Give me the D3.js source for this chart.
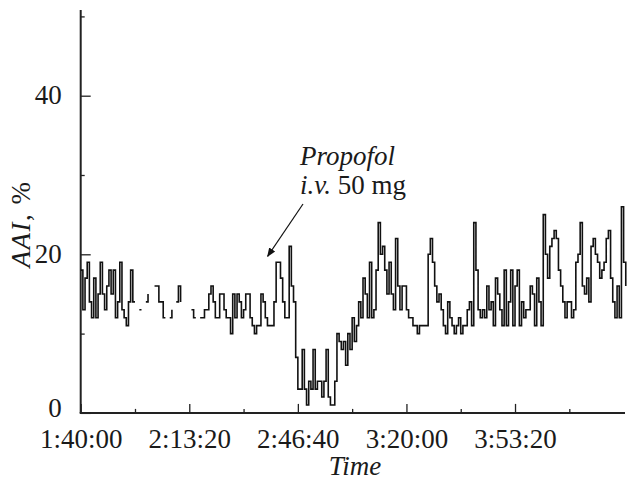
<!DOCTYPE html>
<html>
<head>
<meta charset="utf-8">
<script src="https://cdn.jsdelivr.net/npm/d3@7"></script>
<style>
  html, body { margin: 0; padding: 0; background: #fff; }
  svg { display: block; }
  text { font-family: "Liberation Serif", "DejaVu Serif", serif; fill: #1a1a1a; }
</style>
</head>
<body>
<svg id="chart" width="629" height="481"></svg>
<script>
// ---- data ----
const startSeconds = 6000;      // 1:40:00
const sampleSeconds = 40;       // sampling interval of the AAI trace
const aai = [
  18,13,17,19,14,12,17,12,15,19,
  15,13,16,18,15,18,12,14,19,13,
  12,11,14,18,14,14,null,13,13,null,
  14,15,null,null,16,16,14,14,12,12,
  null,12,13,null,14,16,14,null,null,null,
  null,13,12,12,null,12,12,13,13,15,
  16,14,12,12,15,15,13,12,12,10,
  15,12,15,14,12,13,15,15,12,11,
  10,11,11,15,14,12,11,11,11,14,
  19,19,17,14,12,12,21,16,14,7,
  3,3,8,3,1,4,3,8,3,4,
  4,2,4,8,2,1,1,4,10,9,
  8,9,6,10,8,12,9,11,14,12,
  17,15,12,19,12,13,18,24,20,21,
  18,15,19,15,13,22,16,13,16,16,
  13,12,12,11,11,10,11,11,11,11,
  20,22,19,16,14,15,13,11,10,14,
  12,11,10,11,12,10,11,11,13,14,
  11,24,18,13,12,13,12,16,13,14,
  11,17,15,13,11,18,11,14,18,11,
  16,18,11,14,12,13,13,16,15,11,
  17,14,11,25,20,17,21,22,23,22,
  18,16,14,12,14,14,12,13,19,20,
  24,16,15,17,14,21,22,20,19,17,
  18,19,22,23,17,14,12,16,12,26,
  19,16
];
const xMajorTicks = [6000, 8000, 10000, 12000, 14000];
const xTickLabels = ["1:40:00", "2:13:20", "2:46:40", "3:20:00", "3:53:20"];
const xMinorTicks = [7000, 9000, 11000, 13000, 15000];
const yMajorTicks = [0, 20, 40];
const yTickLabels = ["0", "20", "40"];
const yMinorTicks = [10, 30, 50];
const annotationLines = ["Propofol", "i.v.", " 50 mg"];
const annotationPoint = { t: 9480, v: 20 };

// ---- build ----
const FS = 27;
const svg = d3.select("#chart");
const x = d3.scaleLinear().domain([6000, 16000]).range([80.7, 623.6]);
const y = d3.scaleLinear().domain([0, 50]).range([412.9, 16.4]);

const series = aai.map((v, i) => ({ t: startSeconds + i * sampleSeconds, v }));

const axisColor = "#222";

// axis lines
svg.append("line")
  .attr("x1", x(6000)).attr("x2", x(6000))
  .attr("y1", y(0)).attr("y2", 10)
  .attr("stroke", axisColor).attr("stroke-width", 2);
svg.append("line")
  .attr("x1", x(6000) - 1).attr("x2", 625)
  .attr("y1", y(0)).attr("y2", y(0))
  .attr("stroke", axisColor).attr("stroke-width", 2);

// x axis (ticks pointing inward/up)
const xAxis = d3.axisBottom(x)
  .tickValues(xMajorTicks)
  .tickFormat((d, i) => xTickLabels[i])
  .tickSizeInner(-9).tickSizeOuter(0).tickPadding(16);
const gx = svg.append("g").attr("transform", `translate(0,${y(0)})`).call(xAxis);
gx.select(".domain").remove();
gx.selectAll(".tick line").attr("stroke", axisColor).attr("stroke-width", 1.3);
gx.selectAll(".tick text").attr("font-size", FS).attr("font-family", "Liberation Serif").attr("fill", "#1a1a1a");

const xMinor = d3.axisBottom(x).tickValues(xMinorTicks).tickFormat("").tickSizeInner(-4).tickSizeOuter(0);
const gxm = svg.append("g").attr("transform", `translate(0,${y(0)})`).call(xMinor);
gxm.select(".domain").remove();
gxm.selectAll(".tick line").attr("stroke", axisColor).attr("stroke-width", 1.3);

// y axis (ticks pointing inward/right)
const yAxis = d3.axisLeft(y)
  .tickValues(yMajorTicks)
  .tickFormat((d, i) => yTickLabels[i])
  .tickSizeInner(-10).tickSizeOuter(0).tickPadding(19);
const gy = svg.append("g").attr("transform", `translate(${x(6000)},0)`).call(yAxis);
gy.select(".domain").remove();
gy.selectAll(".tick line").attr("stroke", axisColor).attr("stroke-width", 1.3);
gy.selectAll(".tick text").attr("font-size", FS).attr("font-family", "Liberation Serif").attr("fill", "#1a1a1a")
  .attr("dy", (d) => d === 0 ? "0.15em" : "0.3em");

const yMinor = d3.axisLeft(y).tickValues(yMinorTicks).tickFormat("").tickSizeInner(-4).tickSizeOuter(0);
const gym = svg.append("g").attr("transform", `translate(${x(6000)},0)`).call(yMinor);
gym.select(".domain").remove();
gym.selectAll(".tick line").attr("stroke", axisColor).attr("stroke-width", 1.3);

// trace
const line = d3.line()
  .defined(d => d.v !== null)
  .x(d => x(d.t))
  .y(d => y(d.v))
  .curve(d3.curveStepAfter);
svg.append("path")
  .datum(series)
  .attr("d", line)
  .attr("fill", "none")
  .attr("stroke", "#111")
  .attr("stroke-width", 1.6)
  .attr("stroke-linejoin", "miter");

// axis titles
svg.append("text")
  .attr("x", 355)
  .attr("y", 475)
  .attr("text-anchor", "middle")
  .attr("font-size", FS)
  .attr("font-style", "italic")
  .text("Time");

const yl = svg.append("text")
  .attr("transform", `translate(30,224) rotate(-90)`)
  .attr("text-anchor", "middle")
  .attr("font-size", FS)
  .attr("letter-spacing", 1.5);
yl.append("tspan").attr("font-style", "italic").text("AAI");
yl.append("tspan").text(", %");

// annotation
const ann = svg.append("text").attr("font-size", FS);
ann.append("tspan").attr("x", 300).attr("y", 165).attr("font-style", "italic").text(annotationLines[0]);
const l2 = ann.append("tspan").attr("x", 300).attr("y", 194);
l2.append("tspan").attr("font-style", "italic").text(annotationLines[1]);
l2.append("tspan").text(annotationLines[2]);

// arrow
const defs = svg.append("defs");
defs.append("marker")
  .attr("id", "arrowhead")
  .attr("viewBox", "0 0 10 10")
  .attr("refX", 9).attr("refY", 5)
  .attr("markerWidth", 9).attr("markerHeight", 9)
  .attr("markerUnits", "userSpaceOnUse")
  .attr("orient", "auto")
  .append("path").attr("d", "M0,1 L10,5 L0,9 Z").attr("fill", "#111");
svg.append("line")
  .attr("x1", 303).attr("y1", 204)
  .attr("x2", x(annotationPoint.t) - 2).attr("y2", y(annotationPoint.v) + 2)
  .attr("stroke", "#111").attr("stroke-width", 1.2)
  .attr("marker-end", "url(#arrowhead)");
</script>
</body>
</html>
